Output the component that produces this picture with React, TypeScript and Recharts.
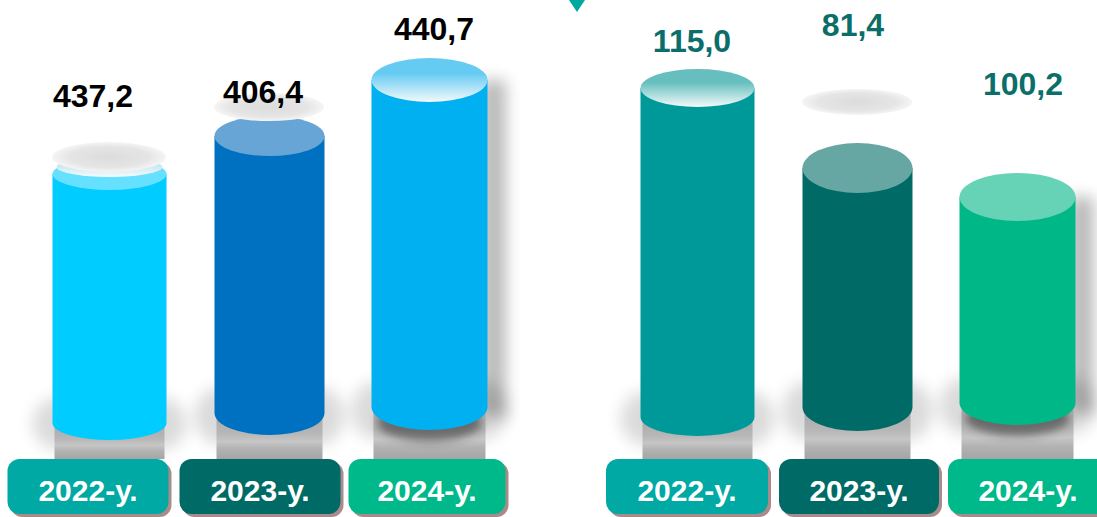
import React from "react";
import { ComposedChart, Bar, Line, XAxis, YAxis, LabelList } from "recharts";

const years = ["2022-у.", "2023-у.", "2024-у."];

// left panel
const leftValues = [437.2, 406.4, 440.7];
const leftLevel = [246, 284, 340]; // cylinder heights as drawn in the picture
const leftGhost = [263, 313, null];

// right panel
const rightValues = [115.0, 81.4, 100.2];
const rightLevel = [332, 252, 223];
const rightGhost = [null, 318, null];

const leftData = years.map((year, i) => ({ year, value: leftValues[i], level: leftLevel[i], ghost: leftGhost[i] }));
const rightData = years.map((year, i) => ({ year, value: rightValues[i], level: rightLevel[i], ghost: rightGhost[i] }));

const FONT = "'Liberation Sans', Arial, sans-serif";
const BOX_COLORS = ["#00A9A3", "#006B66", "#00B98A"];

const LEFT = {
  id: "l",
  body: ["#00CCFF", "#0070C0", "#00B0F0"],
  top: ["#66E0FF", "#66A5D6", "url(#l-cap)"],
  capFrom: "#66CBF3",
  barW: [114, 110, 116],
  topRy: [16, 20, 22],
  botShift: [3, -7, -13],
  botRy: [17, 22, 23],
  ghostRy: [15, 14, 0],
  labelDx: [-16, -6, 5],
  labelDy: [-67, -33, -40],
  labelColor: "#000000",
  boxDx: [-21, -9, -2],
  boxW: [161, 161, 157],
};

const RIGHT = {
  id: "r",
  body: ["#009999", "#006B66", "#00B887"],
  top: ["url(#r-cap)", "#66A6A3", "#66D2B6"],
  capFrom: "#66BFBE",
  barW: [114, 110, 116],
  topRy: [19, 25, 24],
  botShift: [-3, -13, -17],
  botRy: [19, 24, 22],
  ghostRy: [0, 13, 0],
  labelDx: [-5, -4, 6],
  labelDy: [-36, -132, -102],
  labelColor: "#0B6E69",
  boxDx: [-10, 2, 11],
  boxW: [162, 160, 160],
};

const fmt = (v: number) => v.toFixed(1).replace(".", ",");

function Defs({ cfg }: any) {
  const id = cfg.id;
  return (
    <defs>
      <filter id={`${id}-blur`} x="-60%" y="-60%" width="220%" height="220%">
        <feGaussianBlur stdDeviation="8" />
      </filter>
      <filter id={`${id}-blur2`} x="-60%" y="-60%" width="220%" height="220%">
        <feGaussianBlur stdDeviation="4" />
      </filter>
      <linearGradient id={`${id}-cap`} x1="0" y1="0" x2="0" y2="1">
        <stop offset="0%" stopColor={cfg.capFrom} />
        <stop offset="35%" stopColor={cfg.capFrom} />
        <stop offset="100%" stopColor="#F3F9FB" />
      </linearGradient>
      <linearGradient id={`${id}-glint`} x1="0" y1="0" x2="0" y2="1">
        <stop offset="0%" stopColor="#A6DAE9" />
        <stop offset="100%" stopColor="#F5FBFD" />
      </linearGradient>
      <linearGradient id={`${id}-floor`} x1="0" y1="0" x2="0" y2="1">
        <stop offset="0%" stopColor="#A8A8A8" />
        <stop offset="45%" stopColor="#B7B7B7" />
        <stop offset="62%" stopColor="#C6C6C6" />
        <stop offset="78%" stopColor="#B2B2B2" />
        <stop offset="100%" stopColor="#A5A5A5" />
      </linearGradient>
      <radialGradient id={`${id}-ghost`} cx="50%" cy="50%" r="50%">
        <stop offset="0%" stopColor="#DCDCDC" />
        <stop offset="70%" stopColor="#E5E5E5" />
        <stop offset="100%" stopColor="#F5F5F5" />
      </radialGradient>
    </defs>
  );
}

function Cylinder(props: any) {
  const { x, width, y, height, index, cfg } = props;
  const i = index;
  const id = cfg.id;
  const w = cfg.barW[i];
  const cx = x + width / 2;
  const left = cx - w / 2;
  const right = cx + w / 2;
  const rx = w / 2;
  const base = y + height;
  const bottom = base + cfg.botShift[i];
  const ryB = cfg.botRy[i];
  const ryT = cfg.topRy[i];
  const floor = base + 39;
  return (
    <g>
      <rect x={left - 20} y={bottom - 26} width={w + 40} height={ryB + 36} rx={28} fill="#000" opacity={0.14} filter={`url(#${id}-blur)`} />
      {i === 2 && (
        <rect x={right - 6} y={y} width={24} height={bottom - y + 10} fill="#000" opacity={0.28} filter={`url(#${id}-blur)`} />
      )}
      <rect x={left + 2} y={bottom} width={w - 4} height={floor - bottom} fill={`url(#${id}-floor)`} />
      {i === 2 && (
        <ellipse cx={cx} cy={bottom + ryB * 0.7} rx={rx - 6} ry={ryB * 0.8} fill="#222" opacity={0.5} filter={`url(#${id}-blur2)`} />
      )}
      <path d={`M${left},${y} L${left},${bottom} A${rx},${ryB} 0 0 0 ${right},${bottom} L${right},${y} Z`} fill={cfg.body[i]} />
      <ellipse cx={cx} cy={y} rx={rx} ry={ryT} fill={cfg.top[i]} />
      {id === "l" && i === 0 && (
        <ellipse cx={cx} cy={y - 7} rx={rx - 4} ry={ryT - 6} fill={`url(#${id}-glint)`} />
      )}
    </g>
  );
}

function GhostDot(props: any) {
  const { cx, cy, index, value, cfg } = props;
  if (value == null || cy == null || isNaN(cy)) return <g key={`g-${index}`} />;
  return (
    <ellipse key={`g-${index}`} cx={cx} cy={cy} rx={cfg.barW[index] / 2} ry={cfg.ghostRy[index]} fill={`url(#${cfg.id}-ghost)`} />
  );
}

function ValueLabel(props: any) {
  const { x, y, value, index, cfg } = props;
  return (
    <text x={x + cfg.labelDx[index]} y={y + cfg.labelDy[index]} textAnchor="middle" fontSize={32} fontWeight="bold" fontFamily={FONT} fill={cfg.labelColor}>
      {fmt(value)}
    </text>
  );
}

function YearTick(props: any) {
  const { x, y, payload, index, cfg } = props;
  const cx = x + cfg.boxDx[index];
  const w = cfg.boxW[index];
  const top = y + 39;
  const h = 55;
  return (
    <g>
      <rect x={cx - w / 2 + 3} y={top + 3} width={w} height={h} rx={12} fill="#A98B8B" />
      <rect x={cx - w / 2} y={top} width={w} height={h} rx={12} fill={BOX_COLORS[index]} />
      <text x={cx} y={top + 41.5} textAnchor="middle" fill="#FFFFFF" fontSize={30} fontWeight="bold" fontFamily={FONT}>
        {payload.value}
      </text>
    </g>
  );
}

function Panel({ data, cfg, width, margin }: any) {
  return (
    <ComposedChart width={width} height={517} data={data} margin={margin}>
      <Defs cfg={cfg} />
      <XAxis
        dataKey="year"
        axisLine={false}
        tickLine={false}
        tickSize={0}
        tickMargin={0}
        height={97}
        interval={0}
        tick={(p: any) => <YearTick key={`t-${p.index}`} {...p} cfg={cfg} />}
      />
      <YAxis type="number" domain={[0, 400]} hide />
      <Line
        dataKey="ghost"
        stroke="none"
        isAnimationActive={false}
        activeDot={false}
        dot={(p: any) => <GhostDot key={`g-${p.index}`} {...p} cfg={cfg} />}
      />
      <Bar dataKey="level" barSize={113} isAnimationActive={false} shape={(p: any) => <Cylinder {...p} cfg={cfg} />} />
      <Line dataKey="level" stroke="none" dot={false} activeDot={false} isAnimationActive={false}>
        <LabelList dataKey="value" content={(p: any) => <ValueLabel {...p} cfg={cfg} />} />
      </Line>
    </ComposedChart>
  );
}

export default function App() {
  return (
    <div style={{ position: "absolute", left: 0, top: 0, width: 1097, height: 517, background: "#fff", overflow: "hidden" }}>
      <div style={{ position: "absolute", left: 0, top: 0 }}>
        <Panel data={leftData} cfg={LEFT} width={540} margin={{ top: 20, right: 31, bottom: 0, left: 29 }} />
      </div>
      <div style={{ position: "absolute", left: 540, top: 0 }}>
        <Panel data={rightData} cfg={RIGHT} width={557} margin={{ top: 20, right: 0, bottom: 0, left: 77 }} />
      </div>
      <svg style={{ position: "absolute", left: 569, top: 0 }} width={16} height={12}>
        <polygon points="0,0 16,0 8,12" fill="#00A99D" />
      </svg>
    </div>
  );
}
